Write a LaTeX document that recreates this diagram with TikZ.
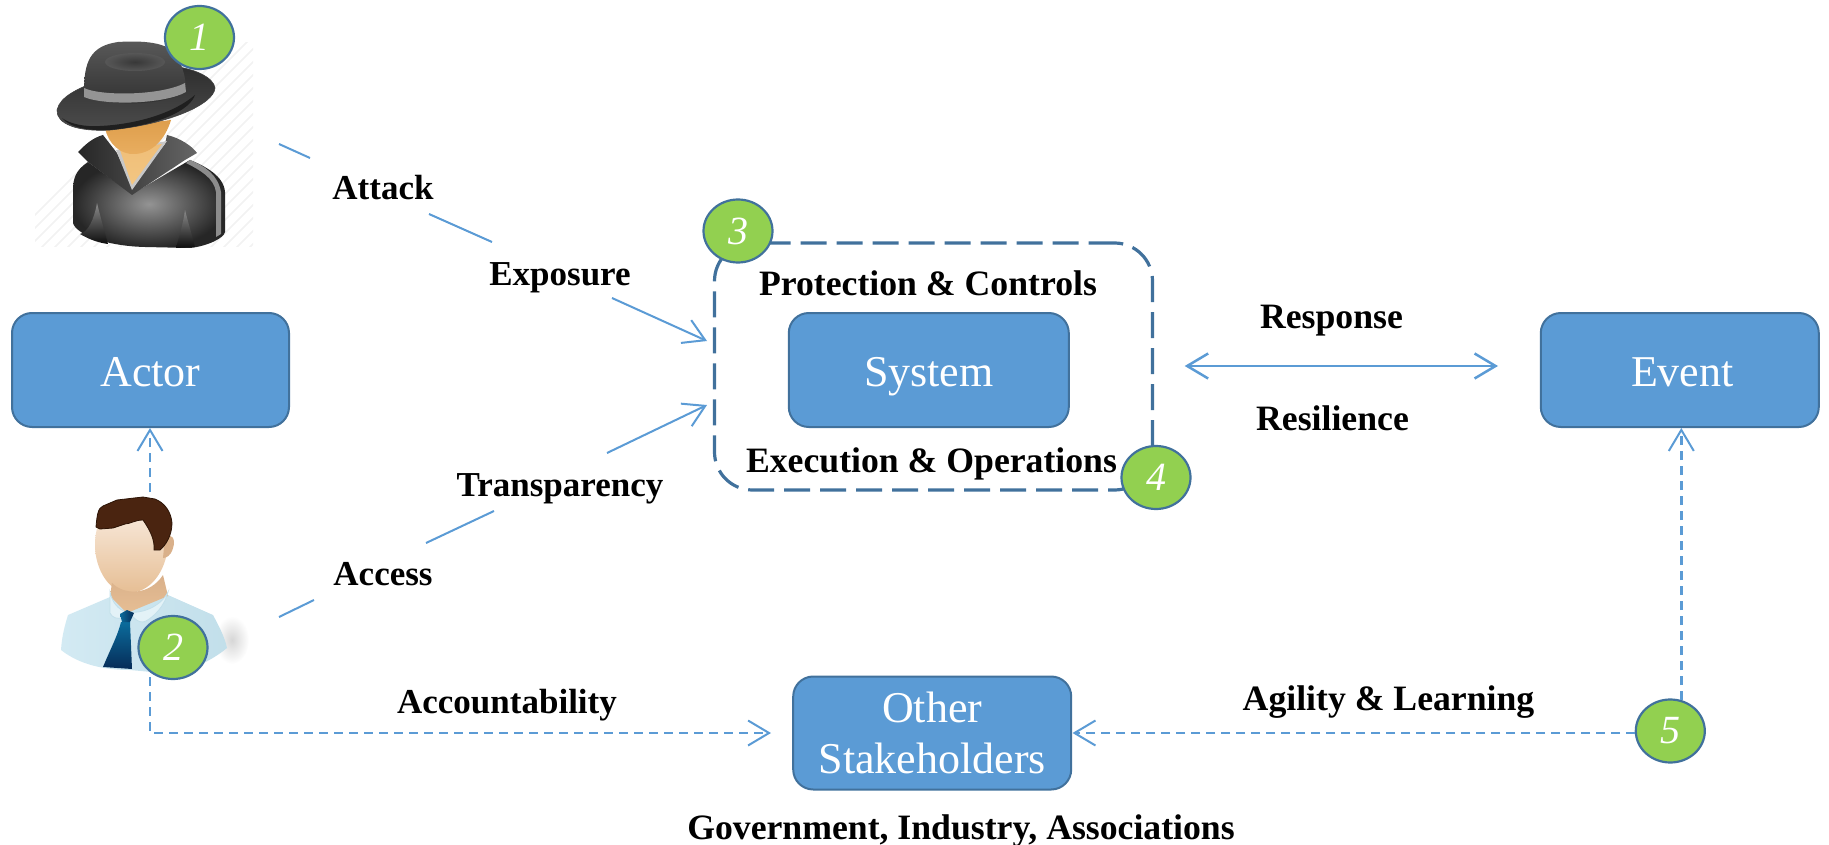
\documentclass[tikz,border=0pt]{standalone}
\usepackage{fontspec}
\setmainfont{Liberation Serif}
\usetikzlibrary{arrows.meta,calc,shapes.geometric}
\definecolor{boxblue}{HTML}{5B9BD5}
\definecolor{boxedge}{HTML}{41719C}
\definecolor{badgegreen}{HTML}{92D050}
\definecolor{skinA}{HTML}{E9AE60}
\definecolor{skinB}{HTML}{DE9E4C}
\definecolor{neckA}{HTML}{EFBE78}
\definecolor{neckB}{HTML}{F3C682}
\definecolor{paleA}{HTML}{FBF1E8}
\definecolor{paleB}{HTML}{E6BE94}
\definecolor{paleC}{HTML}{D9B08A}
\definecolor{shirtA}{HTML}{D3EAF3}
\definecolor{shirtB}{HTML}{C2DFEA}
\definecolor{shirtC}{HTML}{E3F2F7}
\definecolor{tieA}{HTML}{0B6C9C}
\definecolor{tieB}{HTML}{062C58}
\definecolor{hairA}{HTML}{4A2410}
\definecolor{hairB}{HTML}{2C1406}
\tikzset{
  bluebox/.style={draw=boxedge,line width=2pt,fill=boxblue,rounded corners=20pt,text=white,
    font=\fontsize{44}{51}\selectfont,align=center,inner sep=0pt,minimum height=114pt},
  oneline/.style={text height=32pt,text depth=0pt},
  lab/.style={font=\fontsize{35}{35}\selectfont\bfseries,anchor=base,inner sep=0pt,text=black},
  labwide/.style={font=\fontsize{35.7}{36}\selectfont\bfseries,anchor=base,inner sep=0pt,text=black},
  badge/.style={draw=boxedge,line width=2.2pt,fill=badgegreen,ellipse,text=white,
    font=\fontsize{40}{40}\selectfont\itshape,inner sep=0pt,minimum width=69pt,minimum height=63pt},
  link/.style={draw=boxblue,line width=2pt},
  linkhead/.style={-{Straight Barb[length=21pt,width=25pt,line width=2pt]}},
  dashlink/.style={draw=boxblue,line width=2.4pt,dash pattern=on 9pt off 6pt},
}
\begin{document}
\begin{tikzpicture}[x=1pt,y=-1pt]
\useasboundingbox (0,0) rectangle (1829,845);

% ---------- spy figure
\begin{scope}
  \clip (35,43) rectangle (253,247);
  \foreach \k in {0,13,...,440}
    \draw[color=black!5,line width=1.5pt] (\k-10,260) -- (\k+230,20);
\end{scope}
% body
\shade[inner color=black!42,outer color=black!85]
  (88,162) .. controls (76,170) and (73,178) .. (73,190) -- (73,223)
  .. controls (76,234) and (105,246) .. (145,247) -- (190,248)
  .. controls (208,246) and (224,238) .. (225,232) -- (225,192)
  .. controls (224,176) and (205,166) .. (190,160) -- (132,194) -- cycle;
\fill[black!45] (190,160) .. controls (205,166) and (218,175) .. (221,192) -- (221,234) -- (216,237) -- (216,192)
  .. controls (214,178) and (200,170) .. (186,163) -- cycle;
\shade[top color=black!45,bottom color=black!95] (97,203) .. controls (94,220) and (88,232) .. (80,234) .. controls (90,240) and (100,243) .. (108,244) .. controls (104,230) and (100,215) .. (97,203) -- cycle;
\shade[top color=black!45,bottom color=black!95] (185,210) .. controls (183,225) and (178,240) .. (176,248) -- (195,247) .. controls (192,235) and (188,222) .. (185,210) -- cycle;
% collar
\shade[left color=black!85,right color=black!60]
  (78,152) .. controls (85,145) and (92,138) .. (103,135)
  -- (117,153) -- (132,186) -- (165,144) -- (167,135)
  .. controls (180,138) and (192,146) .. (197,153) -- (185,160) -- (132,195) -- (88,162) -- cycle;
% neck and face
\fill[black!22] (116,150) -- (132,190) -- (167,141) -- cycle;
\shade[top color=neckA,bottom color=neckB] (120,150) -- (132,185) -- (162,144) -- cycle;
\shade[top color=skinB,bottom color=skinA]
  (105,128) .. controls (108,143) and (120,155) .. (135,154) .. controls (152,153) and (165,140) .. (171,120) -- cycle;
% hat
\shade[top color=black!82,bottom color=black!70,draw=black!75,line width=0.6pt]
  (57,110) .. controls (60,96) and (80,88) .. (95,82) -- (170,66)
  .. controls (195,68) and (214,78) .. (215,88)
  .. controls (214,104) and (170,124) .. (110,130)
  .. controls (78,132) and (56,124) .. (57,110) -- cycle;
\fill[black!88] (195,95) .. controls (175,112) and (140,124) .. (100,126) .. controls (85,127) and (70,124) .. (62,118)
  .. controls (70,128) and (90,131) .. (110,130) .. controls (160,125) and (190,110) .. (195,95) -- cycle;
\shade[top color=black!65,bottom color=black!82]
  (84,92) .. controls (84,62) and (90,46) .. (118,42) .. controls (150,40) and (172,44) .. (178,58)
  .. controls (183,68) and (186,78) .. (186,92)
  .. controls (170,104) and (105,110) .. (84,92) -- cycle;
\shade[inner color=black!78,outer color=black!66] (135,62) ellipse (30 and 9);
\fill[black!42] (84,88) .. controls (100,96) and (160,96) .. (185,83)
  -- (186,92) .. controls (165,104) and (105,106) .. (84,97) -- cycle;

% ---------- person figure
\shade[inner color=black!16,outer color=white] (232,640) ellipse (17 and 24);
\shade[left color=shirtA,right color=shirtB]
  (61,650) .. controls (62,635) and (65,625) .. (68,615) -- (110,597) -- (168,595) -- (213,615)
  .. controls (220,628) and (225,638) .. (227,648)
  .. controls (210,662) and (190,670) .. (173,674) -- (130,670)
  .. controls (105,670) and (80,665) .. (61,650) -- cycle;
\shade[top color=paleA,bottom color=paleB]
  (95,545) .. controls (95,512) and (115,497) .. (140,497) .. controls (160,497) and (170,515) .. (168,545)
  .. controls (166,572) and (150,593) .. (128,593) .. controls (110,593) and (95,570) .. (95,545) -- cycle;
\fill[paleC] (165,537) .. controls (172,532) and (176,540) .. (173,548) .. controls (171,556) and (166,558) .. (163,558) -- cycle;
\shade[top color=paleC,bottom color=paleB]
  (112,583) -- (110,596) -- (127,613) -- (168,596) -- (163,575) .. controls (150,595) and (125,596) .. (112,583) -- cycle;
\fill[shirtC,draw=shirtB,line width=0.8pt]
  (110,592) -- (110,613) .. controls (112,618) and (118,619) .. (121,618) -- (127,612) -- (133,617)
  .. controls (138,622) and (142,623) .. (146,621) .. controls (155,616) and (165,605) .. (168,592)
  .. controls (160,608) and (140,614) .. (127,612) .. controls (118,610) and (112,602) .. (110,592) -- cycle;
\shade[top color=tieA,bottom color=tieB]
  (121,622) -- (130,622) -- (132,669) -- (103,667) .. controls (110,650) and (118,635) .. (121,622) -- cycle;
\shade[left color=tieA,right color=tieB] (120,614) -- (127,610) -- (134,613) -- (130,622) -- (122,622) -- cycle;
\fill[hairA,draw=hairB,line width=0.8pt]
  (96,527) .. controls (97,515) and (98,508) .. (103,506) -- (117,500) -- (143,497) -- (155,499)
  .. controls (165,503) and (171,512) .. (172,523) .. controls (172,535) and (166,545) .. (160,550)
  -- (154,550) .. controls (155,540) and (150,530) .. (143,520) .. controls (135,520) and (130,524) .. (125,524)
  -- (113,528) -- (100,529) -- cycle;

% ---------- named ends of the connectors
\coordinate (spyA) at (279,144);
\coordinate (atkA) at (310,158);
\coordinate (atkB) at (429,214);
\coordinate (expA) at (492,242);
\coordinate (expB) at (612,298);
\coordinate (sysIn1) at (707,341);
\coordinate (perA) at (279,617);
\coordinate (accA) at (314,600);
\coordinate (accB) at (426,543);
\coordinate (traA) at (494,511);
\coordinate (traB) at (607,453);
\coordinate (sysIn2) at (707,405);
\coordinate (perTop) at (150,492);
\coordinate (perBot) at (150,677);
\coordinate (bend) at (150,733);
\coordinate (otherW) at (771,733);

% ---------- dashed enclosure
\node[draw=boxedge,line width=3.2pt,dash pattern=on 26pt off 10pt,rounded corners=38pt,
  minimum width=438pt,minimum height=247pt,inner sep=0pt] (encl) at (933.5,366.5) {};

% ---------- boxes
\node[bluebox,oneline,minimum width=277pt] (actor) at (150.5,370) {Actor};
\node[bluebox,oneline,minimum width=280pt] (system) at (928.8,370) {System};
\node[bluebox,oneline,minimum width=278pt] (event) at (1679.8,370) {\kern5pt Event};
\node[bluebox,minimum width=278pt,minimum height=113pt] (other) at (932.2,733) {Other\\Stakeholders};

% ---------- badges
\node[badge] (b1) at (199.5,37.5) {1};
\node[badge] (b2) at (173,647.5) {2};
\node[badge] (b3) at (738,231) {3};
\node[badge] (b4) at (1156,477.5) {4};
\node[badge] (b5) at (1670.3,731) {5};

% ---------- labels
\node[lab] (attack) at (383,200) {Attack};
\node[lab] (exposure) at (560,285) {Exposure};
\node[lab] (transp) at (560,496) {Transparency};
\node[lab] (access) at (383,585) {Access};
\node[labwide] (protect) at (928,295) {Protection \& Controls};
\node[labwide] (exec) at (931.5,472) {Execution \& Operations};
\node[labwide] (resp) at (1331.5,328) {Response};
\node[labwide] (resil) at (1332.5,430) {Resilience};
\node[lab] (account) at (507,713) {Accountability};
\node[labwide] (agile) at (1388.5,710) {Agility \& Learning};
\node[labwide] (gov) at (961,839) {Government, Industry, Associations};

% ---------- connectors
\draw[link] (spyA) -- (atkA);
\draw[link] (atkB) -- (expA);
\draw[link,linkhead] (expB) -- (sysIn1);
\draw[link] (perA) -- (accA);
\draw[link] (accB) -- (traA);
\draw[link,linkhead] (traB) -- (sysIn2);
\coordinate (rsL) at (1184.7,366);
\coordinate (rsR) at (1498,366);
\draw[link,line width=2.5pt,{Straight Barb[length=21pt,width=25pt,line width=2.5pt]}-{Straight Barb[length=21pt,width=25pt,line width=2.5pt]}] (rsL) -- (rsR);
\draw[dashlink,linkhead] (perTop) -- (actor.south -| perTop);
\draw[dashlink,linkhead] (perBot) -- (bend) -- (otherW);
\coordinate (otherIn) at (1072.5,733);
\coordinate (b5L) at (1635,733);
\coordinate (b5T) at (1681.3,700);
\draw[dashlink,linkhead] (b5L) -- (otherIn);
\draw[dashlink,linkhead] (b5T) -- (event.south -| b5T);
\end{tikzpicture}
\end{document}
